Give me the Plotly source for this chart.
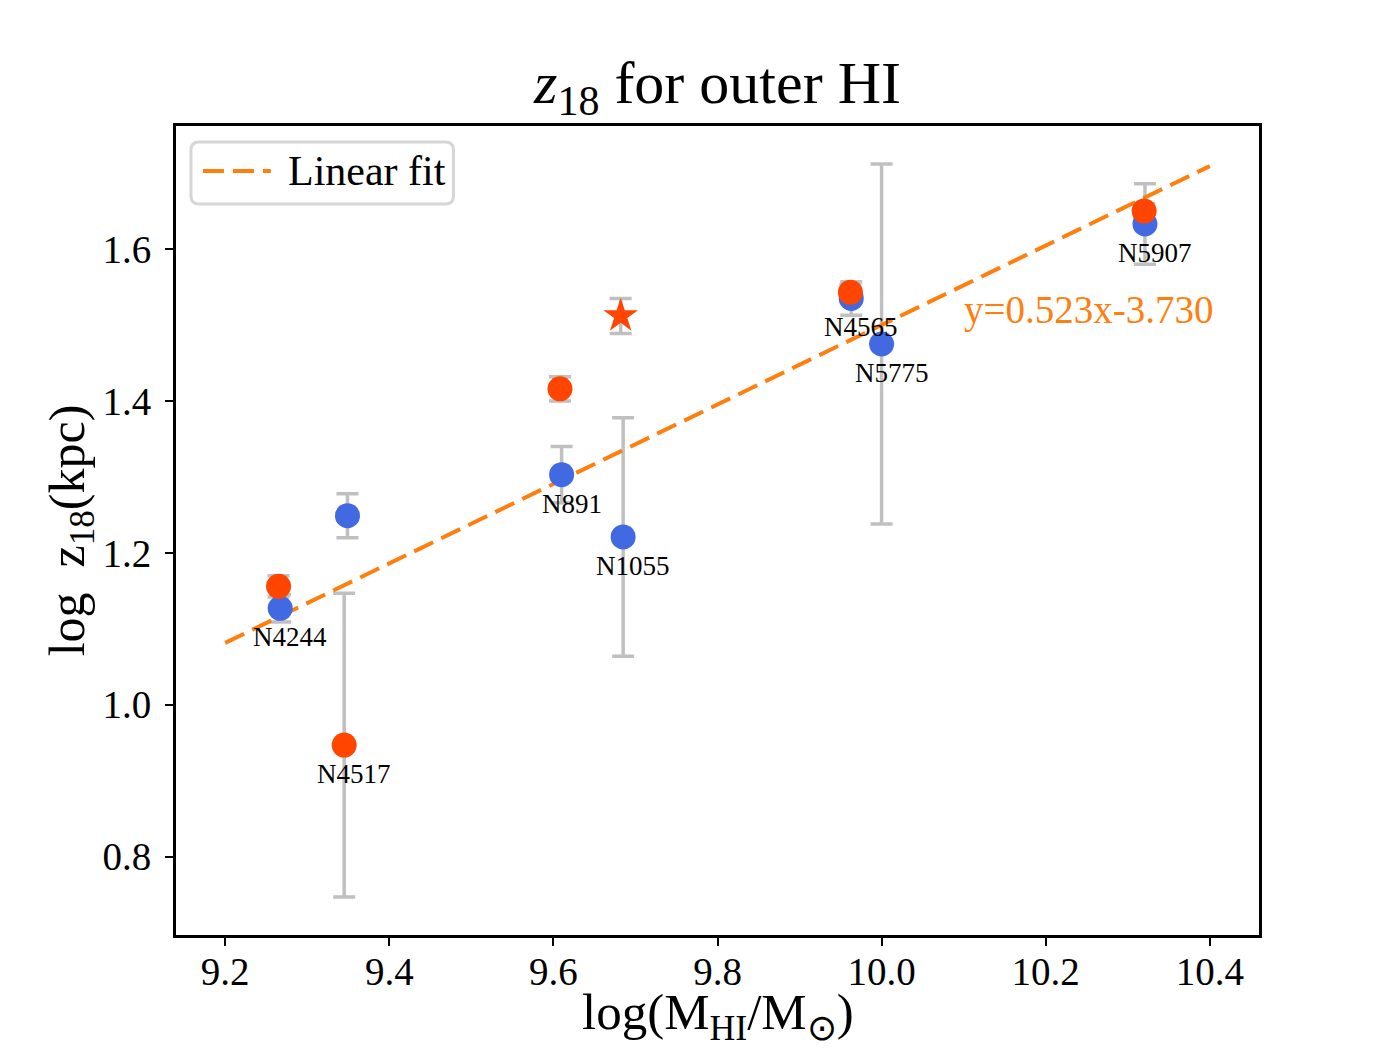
import plotly.graph_objects as go

# blue points (log M_HI, log z18) with error
blue_x = [9.267, 9.349, 9.610, 9.685, 9.963, 10.000, 10.321]
blue_y = [1.127, 1.249, 1.303, 1.221, 1.535, 1.475, 1.633]
blue_err = [0.018, 0.029, 0.037, 0.157, 0.022, 0.237, 0.053]

# red points
red_x = [9.265, 9.345, 9.608, 9.962, 10.320]
red_y = [1.156, 0.947, 1.416, 1.543, 1.650]
red_err = [0.014, 0.200, 0.016, 0.010, 0.010]

# red star
star_x = [9.682]
star_y = [1.512]
star_err = [0.023]

# labels (placed under a point)
label_names = ["N4244", "N4517", "N891", "N1055", "N4565", "N5775", "N5907"]
label_x = [9.267, 9.345, 9.610, 9.685, 9.963, 10.000, 10.321]
label_y = [1.127, 0.947, 1.303, 1.221, 1.535, 1.475, 1.633]

# linear fit
slope = 0.523
intercept = -3.730
fit_x = [9.2, 10.4]
fit_y = [slope * v + intercept for v in fit_x]

FONT = "Liberation Serif"
GREY = "#c0c0c0"
ORANGE = "#ff7f0e"
DASH = "21px,9px"

fig = go.Figure()

# error bars first (grey, under the markers)
for xs, ys, es in [(blue_x, blue_y, blue_err), (red_x, red_y, red_err),
                   (star_x, star_y, star_err)]:
    fig.add_trace(go.Scatter(
        x=xs, y=ys, mode="markers",
        marker=dict(size=1, opacity=0),
        error_y=dict(type="data", array=es, color=GREY, thickness=3.5, width=11),
        showlegend=False, hoverinfo="skip"))

fig.add_trace(go.Scatter(
    x=fit_x, y=fit_y, mode="lines", name="Linear fit", showlegend=False,
    line=dict(color=ORANGE, width=4, dash=DASH)))

fig.add_trace(go.Scatter(
    x=blue_x, y=blue_y, mode="markers", showlegend=False,
    marker=dict(color="#4169e1", size=25)))
fig.add_trace(go.Scatter(
    x=red_x, y=red_y, mode="markers", showlegend=False,
    marker=dict(color="#ff4500", size=25)))
fig.add_trace(go.Scatter(
    x=star_x, y=star_y, mode="markers", showlegend=False,
    marker=dict(color="#ff4500", size=26, symbol="star")))

for name, lx, ly in zip(label_names, label_x, label_y):
    fig.add_annotation(x=lx, y=ly, text=name, showarrow=False,
                       xshift=10, yshift=-29,
                       font=dict(family=FONT, size=27, color="black"))

fig.add_annotation(x=10.1, y=1.5, text="y=%.3fx%.3f" % (slope, intercept),
                   showarrow=False, xanchor="left", yanchor="bottom",
                   yshift=-9, xshift=-2,
                   font=dict(family=FONT, size=39, color=ORANGE))

# legend box drawn by hand (matplotlib style, rounded corners)
lx0, lx1, ly0, ly1 = 0.0138, 0.2562, 0.9037, 0.9802
rx, ry = 0.0074, 0.0099
legend_path = (f"M {lx0+rx},{ly0} L {lx1-rx},{ly0} Q {lx1},{ly0} {lx1},{ly0+ry} "
               f"L {lx1},{ly1-ry} Q {lx1},{ly1} {lx1-rx},{ly1} "
               f"L {lx0+rx},{ly1} Q {lx0},{ly1} {lx0},{ly1-ry} "
               f"L {lx0},{ly0+ry} Q {lx0},{ly0} {lx0+rx},{ly0} Z")
fig.add_shape(type="path", path=legend_path, xref="paper", yref="paper",
              line=dict(color="#d6d6d6", width=3), fillcolor="white")
fig.add_shape(type="line", xref="paper", yref="paper",
              x0=0.0249, x1=0.0876, y0=0.9444, y1=0.9444,
              line=dict(color=ORANGE, width=4, dash=DASH))
fig.add_annotation(x=0.1014, y=0.9444, xref="paper", yref="paper",
                   text="Linear fit", showarrow=False,
                   xanchor="left", yanchor="middle",
                   font=dict(family=FONT, size=42, color="black"))

# x axis title as annotation (keeps the subscripts inside the page)
fig.add_annotation(x=0.5, y=-0.100, xref="paper", yref="paper",
                   text="log(M<sub>HI</sub>/M<sub>⊙</sub>)", showarrow=False,
                   xanchor="center", yanchor="middle",
                   font=dict(family=FONT, size=51, color="black"))

axis_common = dict(showline=True, linecolor="black", linewidth=3, mirror=True,
                   ticks="outside", ticklen=8, tickwidth=2, tickcolor="black",
                   showgrid=False, zeroline=False,
                   tickfont=dict(family=FONT, size=39, color="black"))

fig.update_xaxes(range=[9.14, 10.46], tickvals=[9.2, 9.4, 9.6, 9.8, 10.0, 10.2, 10.4],
                 ticktext=["9.2", "9.4", "9.6", "9.8", "10.0", "10.2", "10.4"],
                 ticklabelstandoff=-8,
                 **axis_common)
fig.update_yaxes(range=[0.697, 1.762], tickvals=[0.8, 1.0, 1.2, 1.4, 1.6],
                 ticktext=["0.8", "1.0", "1.2", "1.4", "1.6"],
                 ticklabelstandoff=6,
                 title=dict(text="log  z<sub>18</sub>(kpc)",
                            font=dict(family=FONT, size=50, color="black"),
                            standoff=2),
                 **axis_common)

fig.update_layout(
    width=1400, height=1050,
    margin=dict(l=168, r=149, t=118, b=123),
    plot_bgcolor="white", paper_bgcolor="white",
    showlegend=False,
    title=dict(text="<i>z</i><sub>18</sub> for outer HI", x=0.5, xref="paper",
               xanchor="center", y=0.93, yanchor="middle",
               font=dict(family=FONT, size=60, color="black")),
)

fig.write_html("out.html")
